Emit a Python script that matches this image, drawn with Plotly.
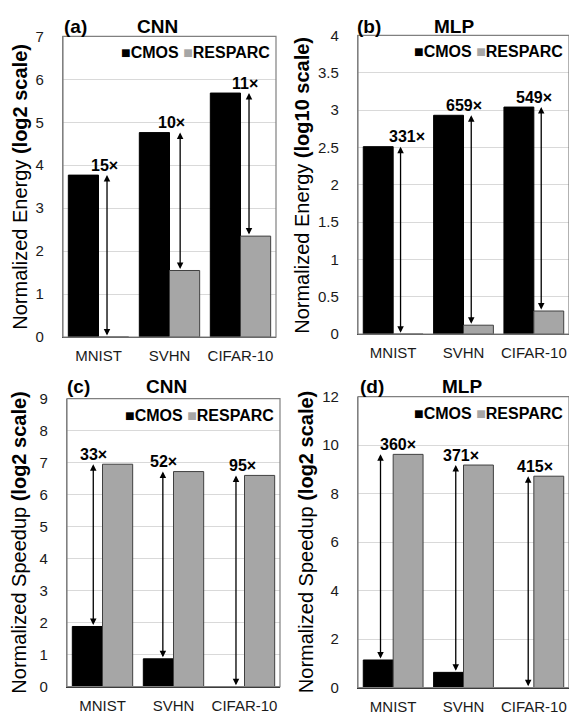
import plotly.graph_objects as go

W, H = 569, 722

categories = ["MNIST", "SVHN", "CIFAR-10"]

energy_cnn_cmos = [3.77, 4.76, 5.68]
energy_cnn_resparc = [0.0, 1.55, 2.35]
energy_cnn_labels = ["15×", "10×", "11×"]

energy_mlp_cmos = [2.51, 2.93, 3.04]
energy_mlp_resparc = [0.0, 0.12, 0.31]
energy_mlp_labels = ["331×", "659×", "549×"]

speed_cnn_cmos = [1.88, 0.87, 0.0]
speed_cnn_resparc = [6.95, 6.72, 6.60]
speed_cnn_labels = ["33×", "52×", "95×"]

speed_mlp_cmos = [1.14, 0.63, 0.0]
speed_mlp_resparc = [9.62, 9.18, 8.72]
speed_mlp_labels = ["360×", "371×", "415×"]

FONT = "Liberation Sans, Arial, sans-serif"

panels = [
    dict(cmos=energy_cnn_cmos, res=energy_cnn_resparc, labels=energy_cnn_labels,
         tag="(a)", name="CNN", ytitle="Normalized Energy <b>(log2 scale)</b>",
         yrange=[0, 7], dtick=1, px=(63, 276), py=(28, 336),
         arrow_off=[0.12, 0.15, 0.12], label_off=[0.08, 0.03, 0.07],
         tagx=75, namex=157, ty=18, ytx=20),
    dict(cmos=energy_mlp_cmos, res=energy_mlp_resparc, labels=energy_mlp_labels,
         tag="(b)", name="MLP", ytitle="Normalized Energy <b>(log10 scale)</b>",
         yrange=[0, 4], dtick=0.5, px=(358, 569), py=(27, 333),
         arrow_off=[0.105, 0.11, 0.105], label_off=[0.19, 0.0, 0.0],
         tagx=369, namex=454, ty=18, ytx=302),
    dict(cmos=speed_cnn_cmos, res=speed_cnn_resparc, labels=speed_cnn_labels,
         tag="(c)", name="CNN", ytitle="Normalized Speedup <b>(log2 scale)</b>",
         yrange=[0, 9], dtick=1, px=(67, 280), py=(399, 694),
         arrow_off=[-0.13, -0.15, -0.12], label_off=[-0.13, -0.14, -0.03],
         tagx=78, namex=166, ty=387, ytx=19),
    dict(cmos=speed_mlp_cmos, res=speed_mlp_resparc, labels=speed_mlp_labels,
         tag="(d)", name="MLP", ytitle="Normalized Speedup <b>(log2 scale)</b>",
         yrange=[0, 12], dtick=2, px=(358, 569), py=(397, 695),
         arrow_off=[-0.18, -0.11, -0.08], label_off=[0.07, -0.04, 0.02],
         tagx=372, namex=462, ty=387, ytx=306),
]

fig = go.Figure()
annotations = []
shapes = []

for i, p in enumerate(panels):
    n = "" if i == 0 else str(i + 1)
    xref, yref = "x" + n, "y" + n
    fig.add_trace(go.Bar(x=categories, y=p["cmos"], name="CMOS", xaxis=xref, yaxis=yref,
                         marker=dict(color="#000000", line=dict(color="#000000", width=1)),
                         showlegend=False))
    fig.add_trace(go.Bar(x=categories, y=p["res"], name="RESPARC", xaxis=xref, yaxis=yref,
                         marker=dict(color="#a6a6a6", line=dict(color="#404040", width=1)),
                         showlegend=False))
    xd = [p["px"][0] / W, min(p["px"][1] / W, 1.0)]
    yd = [1 - p["py"][1] / H, 1 - p["py"][0] / H]
    fig.layout["xaxis" + n] = dict(
        domain=xd, anchor=yref, type="category", showline=True, linecolor="#262626",
        linewidth=1.2, showgrid=False, ticks="", ticklabelstandoff=5,
        tickfont=dict(family=FONT, size=15, color="#1a1a1a"), fixedrange=True)
    fig.layout["yaxis" + n] = dict(
        domain=yd, anchor=xref, range=p["yrange"], dtick=p["dtick"], tick0=0,
        showline=True, linecolor="#808080", linewidth=1.2,
        showgrid=True, gridcolor="#d9d9d9", gridwidth=1.2, zeroline=False,
        ticks="", ticklabelstandoff=15,
        tickfont=dict(family=FONT, size=15, color="#1a1a1a"), fixedrange=True)
    # plot box
    shapes.append(dict(type="rect", xref=xref + " domain", yref=yref + " domain",
                       x0=0, x1=1, y0=0, y1=1, line=dict(color="#808080", width=1.2),
                       layer="above"))
    # arrows and labels
    for k in range(len(categories)):
        top = max(p["cmos"][k], p["res"][k])
        bot = min(p["cmos"][k], p["res"][k])
        xa = k + p["arrow_off"][k]
        annotations.append(dict(
            x=xa, y=top, ax=xa, ay=bot, xref=xref, yref=yref, axref=xref, ayref=yref,
            text="", showarrow=True, arrowside="end+start", arrowhead=2, startarrowhead=2,
            arrowsize=1.0, startarrowsize=1.0, arrowwidth=1.3, arrowcolor="#000000",
            standoff=0, startstandoff=0))
        annotations.append(dict(
            x=k + p["label_off"][k], y=top, xref=xref, yref=yref, text="<b>%s</b>" % p["labels"][k],
            showarrow=False, xanchor="center", yanchor="middle", yshift=10,
            font=dict(family=FONT, size=16, color="#000000")))
    # legend
    annotations.append(dict(
        x=xd[1] - 4 / W, y=1 - (p["py"][0] + 17) / H, xref="paper", yref="paper",
        xanchor="right", yanchor="middle", showarrow=False,
        text='<b><span style="color:#000000">■</span>CMOS <span style="color:#a6a6a6">■</span>RESPARC</b>',
        font=dict(family=FONT, size=16, color="#000000")))
    # panel tag and title
    annotations.append(dict(x=p["tagx"] / W, y=1 - p["ty"] / H, xref="paper", yref="paper",
                            xanchor="center", yanchor="middle", showarrow=False,
                            text="<b>%s</b>" % p["tag"], font=dict(family=FONT, size=19, color="#000000")))
    annotations.append(dict(x=p["namex"] / W, y=1 - p["ty"] / H, xref="paper", yref="paper",
                            xanchor="center", yanchor="middle", showarrow=False,
                            text="<b>%s</b>" % p["name"], font=dict(family=FONT, size=19, color="#000000")))
    # y title
    annotations.append(dict(x=p["ytx"] / W, y=1 - (p["py"][0] + p["py"][1]) / 2 / H,
                            xref="paper", yref="paper", xanchor="center", yanchor="middle",
                            textangle=-90, showarrow=False, text=p["ytitle"],
                            font=dict(family=FONT, size=20, color="#000000")))

fig.update_layout(
    width=W, height=H, autosize=False,
    margin=dict(l=0, r=0, t=0, b=0),
    paper_bgcolor="#ffffff", plot_bgcolor="#ffffff",
    barmode="group", bargap=0.15, bargroupgap=0,
    annotations=annotations, shapes=shapes,
    font=dict(family=FONT),
)

fig.write_html("out.html", config={"displayModeBar": False},
               post_script="document.body.style.margin='0';document.body.style.overflow='hidden';")
